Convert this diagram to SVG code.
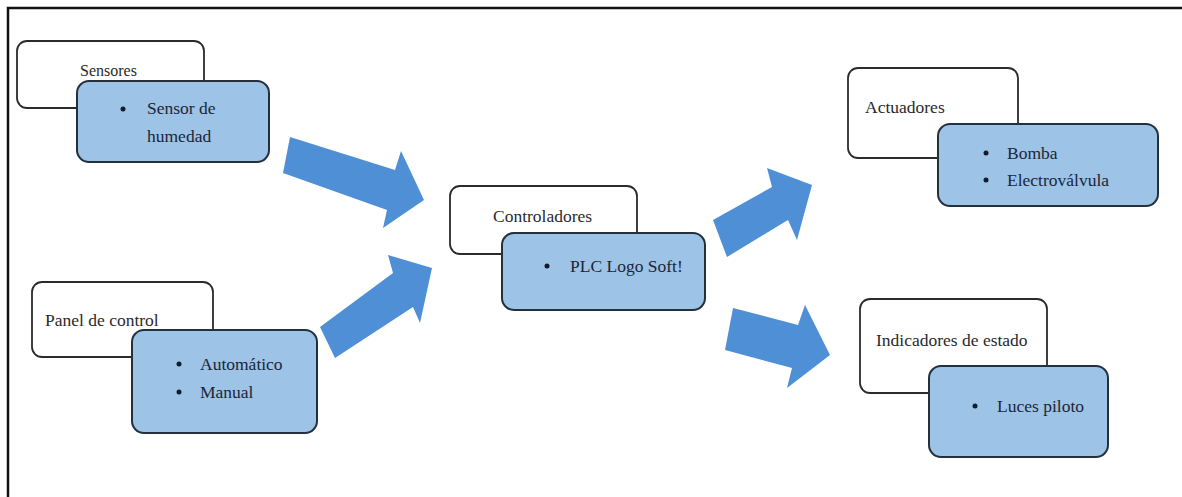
<svg xmlns="http://www.w3.org/2000/svg" width="1182" height="497" viewBox="0 0 1182 497">
<style>
.bg{fill:#ffffff}
.frame{stroke:#111;stroke-width:2.5;fill:none}
.hd{fill:#ffffff;stroke:#2b2b2b;stroke-width:1.8}
.bx{fill:#9dc3e6;stroke:#24303c;stroke-width:2}
.arr{fill:#4f8fd6}
.t{font-size:17.5px;fill:#2a2a2a}
.tb{font-size:17.5px;fill:#1b2638}
.dot{fill:#111b2a}
</style>
<rect class="bg" x="0" y="0" width="1182" height="497"/>
<path class="frame" d="M8,497 V8 H1182"/>

<g id="connectors">
<polygon class="arr" points="290,137 395,170 401,151 424,200 383,228 387,210 283,173"/>
<polygon class="arr" points="320,327 393,273 388,255 432,268 420,323 413,307 335,358"/>
<polygon class="arr" points="713,220 772,187 767,168 812,185 797,240 788,220 727,257"/>
<polygon class="arr" points="733,308 798,325 805,305 830,355 787,388 792,368 725,350"/>
</g>

<g font-family="Liberation Serif, Times New Roman, DejaVu Serif, serif">
<g id="sensores">
<rect class="hd" x="17" y="41" width="187" height="67" rx="10"/>
<text class="t" x="80" y="76" style="font-size:16px">Sensores</text>
<rect class="bx" x="77" y="81" width="192" height="81" rx="12"/>
<circle class="dot" cx="123" cy="109" r="2.5"/>
<text class="tb" x="147" y="114">Sensor de</text>
<text class="tb" x="147" y="142">humedad</text>
</g>

<g id="panel">
<rect class="hd" x="32" y="282" width="181" height="75" rx="10"/>
<text class="t" x="45" y="326">Panel de control</text>
<rect class="bx" x="132" y="330" width="185" height="103" rx="12"/>
<circle class="dot" cx="179" cy="364" r="2.5"/>
<text class="tb" x="200" y="370">Automático</text>
<circle class="dot" cx="179" cy="392" r="2.5"/>
<text class="tb" x="200" y="398">Manual</text>
</g>

<g id="controladores">
<rect class="hd" x="450" y="186" width="187" height="68" rx="10"/>
<text class="t" x="493" y="222">Controladores</text>
<rect class="bx" x="502" y="233" width="203" height="77" rx="12"/>
<circle class="dot" cx="547" cy="266" r="2.5"/>
<text class="tb" x="570" y="272">PLC Logo Soft!</text>
</g>

<g id="actuadores">
<rect class="hd" x="848" y="68" width="170" height="90" rx="10"/>
<text class="t" x="865" y="113">Actuadores</text>
<rect class="bx" x="938" y="124" width="220" height="82" rx="12"/>
<circle class="dot" cx="986" cy="153" r="2.5"/>
<text class="tb" x="1007" y="159">Bomba</text>
<circle class="dot" cx="986" cy="180" r="2.5"/>
<text class="tb" x="1007" y="186">Electroválvula</text>
</g>

<g id="indicadores">
<rect class="hd" x="860" y="299" width="187" height="94" rx="10"/>
<text class="t" x="876" y="346">Indicadores de estado</text>
<rect class="bx" x="929" y="366" width="179" height="91" rx="12"/>
<circle class="dot" cx="975" cy="406" r="2.5"/>
<text class="tb" x="997" y="412">Luces piloto</text>
</g>
</g>
</svg>
